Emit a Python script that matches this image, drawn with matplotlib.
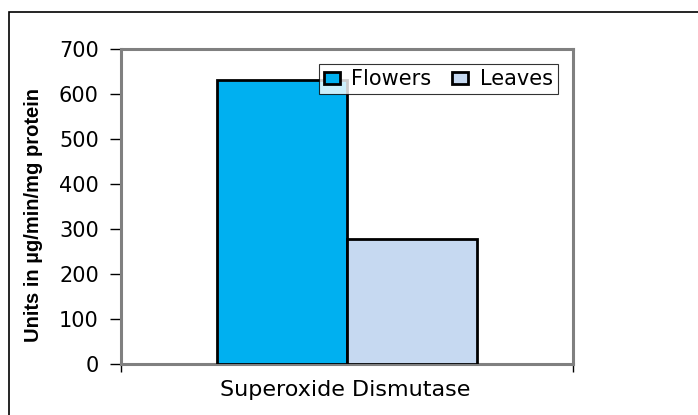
import matplotlib
matplotlib.use("Agg")
import matplotlib.pyplot as plt
from matplotlib.patches import Rectangle

categories = ["Superoxide Dismutase"]
series_names = ["Flowers", "Leaves"]
flowers = [630]
leaves = [277]
yticks = [0, 100, 200, 300, 400, 500, 600, 700]
colors = ["#00B0F0", "#C6D9F1"]

plt.rcParams['font.family'] = ['DejaVu Sans']

fig = plt.figure(figsize=(6.98, 4.15), dpi=100)
fig.patches.append(Rectangle((8.5/698, -0.1), 1.2, 1.1 - 12.5/415, transform=fig.transFigure,
                             fill=False, edgecolor='black', linewidth=1.2, zorder=0))
ax = fig.add_axes([121/698, 1-364/415, 452/698, 315/415])

w = 130/452
ax.bar([-w/2], flowers, width=w, color=colors[0], edgecolor='black', linewidth=2,
       label=series_names[0], zorder=3)
ax.bar([w/2], leaves, width=w, color=colors[1], edgecolor='black', linewidth=2,
       label=series_names[1], zorder=3)

ax.set_xlim(-0.5, 0.5)
ax.set_ylim(0, 700)
ax.set_yticks(yticks)
ax.set_yticklabels([str(v) for v in yticks], fontsize=15)
ax.tick_params(axis='y', direction='out', length=8, width=1, color='black', pad=8)
ax.set_xticks([-0.5, 0.5])
ax.set_xticklabels(["", ""])
ax.tick_params(axis='x', direction='out', length=5.5, width=1, color='black')
for s in ax.spines.values():
    s.set_color('#808080')
    s.set_linewidth(2.2)

fig.text(345/698, 1-390/415, categories[0], ha='center', va='center', fontsize=16)
fig.text(34/698, 1-215/415, "Units in µg/min/mg protein", rotation=90, ha='center', va='center',
         fontsize=14.5, fontweight='bold', family=['Liberation Sans', 'DejaVu Sans'])

leg = ax.legend(loc='upper right', ncol=2, fontsize=15, frameon=True, fancybox=False,
                bbox_to_anchor=(1-15/452, 1-15/315), borderaxespad=0, handlelength=0.77,
                handleheight=0.5, handletextpad=0.55, columnspacing=1.0, borderpad=0.25)
leg.get_frame().set_edgecolor('black')
leg.get_frame().set_linewidth(0.8)
for h in leg.legend_handles:
    h.set_linewidth(2)
leg.set_zorder(5)

fig.savefig("out.png", dpi=100)
